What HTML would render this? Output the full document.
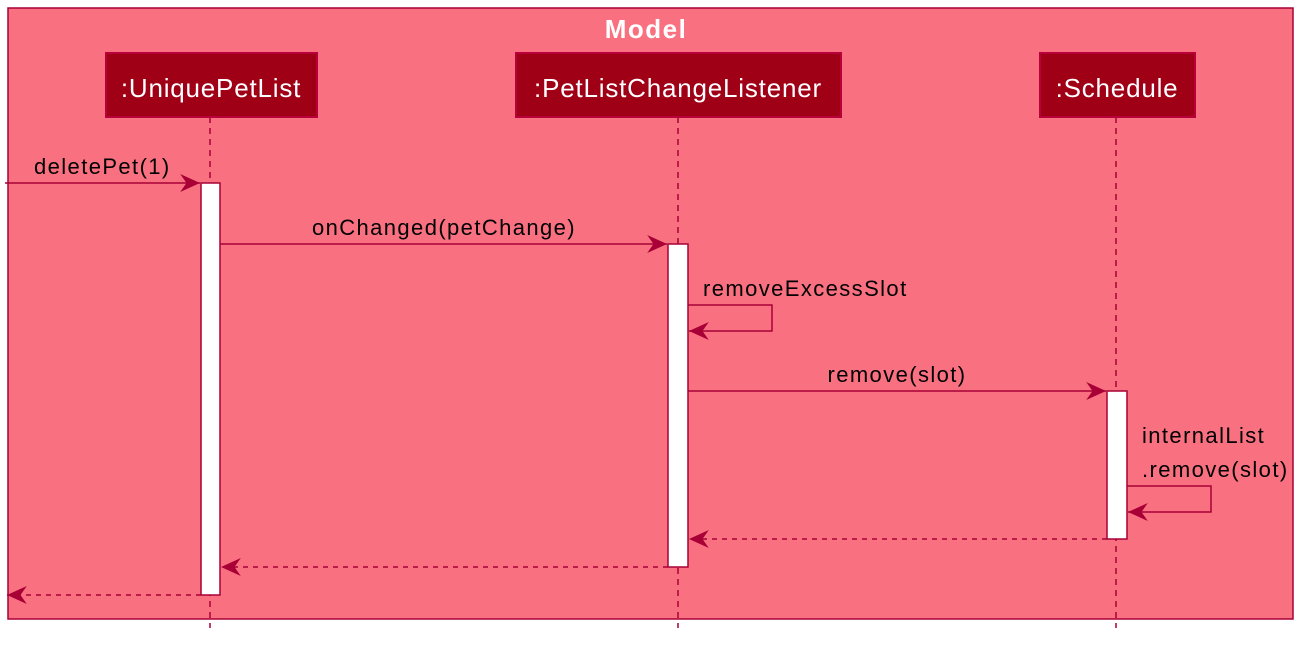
<!DOCTYPE html>
<html><head><meta charset="utf-8"><style>
html,body{margin:0;padding:0;background:#fff;}
svg{display:block;}
text{font-family:"Liberation Sans",sans-serif;}
</style></head><body>
<svg width="1312" height="653" viewBox="0 0 1312 653" xmlns="http://www.w3.org/2000/svg">
<defs>
<marker id="ah" viewBox="0 0 24 20" refX="22" refY="10" markerWidth="22" markerHeight="18" markerUnits="userSpaceOnUse" orient="auto">
<path d="M0,0 L22,10 L0,20 L7,10 Z" fill="#A80036"/>
</marker>
</defs>
<rect x="8" y="8" width="1285" height="611" fill="#F97181" stroke="#A80036" stroke-width="1.5"/>
<text x="646" y="38" font-size="26" font-weight="bold" fill="#fff" text-anchor="middle" letter-spacing="1.5">Model</text>
<g stroke="#A80036" stroke-width="1.5" stroke-dasharray="6,5">
<line x1="210" y1="117" x2="210" y2="628"/>
<line x1="678" y1="117" x2="678" y2="628"/>
<line x1="1116" y1="117" x2="1116" y2="628"/>
</g>
<g fill="#A00016" stroke="#B8003A" stroke-width="2">
<rect x="106" y="53" width="211" height="64"/>
<rect x="516" y="53" width="325" height="64"/>
<rect x="1040" y="53" width="155" height="64"/>
</g>
<g fill="#fff" font-size="26" text-anchor="middle" letter-spacing="0.8">
<text x="211" y="97">:UniquePetList</text>
<text x="678" y="97">:PetListChangeListener</text>
<text x="1117" y="97">:Schedule</text>
</g>
<g fill="#fff" stroke="#A80036" stroke-width="1.5">
<rect x="201" y="183" width="19" height="412"/>
<rect x="668" y="244" width="20" height="323"/>
<rect x="1107" y="391" width="20" height="148"/>
</g>
<g stroke="#A80036" stroke-width="1.5" fill="none">
<line x1="5" y1="183" x2="200" y2="183" marker-end="url(#ah)"/>
<line x1="220" y1="244" x2="667" y2="244" marker-end="url(#ah)"/>
<polyline points="688,305 772,305 772,331 689,331" marker-end="url(#ah)"/>
<line x1="688" y1="391" x2="1106" y2="391" marker-end="url(#ah)"/>
<polyline points="1127,486 1211,486 1211,512 1128,512" marker-end="url(#ah)"/>
<g stroke-dasharray="5,5">
<line x1="1107" y1="539" x2="689" y2="539" marker-end="url(#ah)"/>
<line x1="668" y1="567" x2="221" y2="567" marker-end="url(#ah)"/>
<line x1="201" y1="595" x2="7" y2="595" marker-end="url(#ah)"/>
</g>
</g>
<g fill="#000" font-size="22" letter-spacing="1.4">
<text x="34" y="174">deletePet(1)</text>
<text x="444" y="235" text-anchor="middle">onChanged(petChange)</text>
<text x="703" y="296">removeExcessSlot</text>
<text x="897" y="382" text-anchor="middle">remove(slot)</text>
<text x="1142" y="443">internalList</text>
<text x="1142" y="477">.remove(slot)</text>
</g>
</svg>
</body></html>
